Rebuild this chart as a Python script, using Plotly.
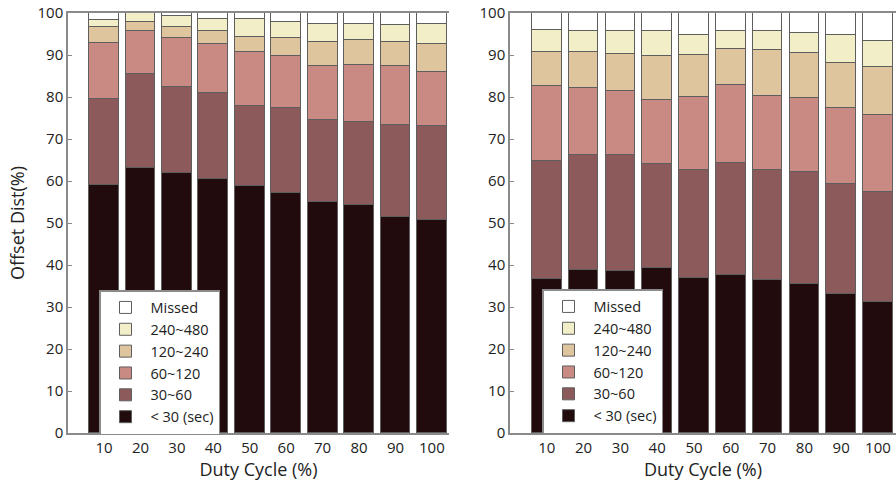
import plotly.graph_objects as go

duty = [10, 20, 30, 40, 50, 60, 70, 80, 90, 100]
tick_labels = ["10", "20", "30", "40", "50", "60", "70", "80", "90", "100"]
series_names = ["< 30 (sec)", "30~60", "60~120", "120~240", "240~480", "Missed"]
colors = ["#210b0c", "#8c5a5b", "#c98a84", "#dfc59e", "#f2efc8", "#ffffff"]

# Left chart (segment sizes, %)
left_lt30 = [59.1, 63.0, 61.8, 60.5, 58.7, 57.1, 55.0, 54.4, 51.4, 50.7]
left_30_60 = [20.5, 22.4, 20.7, 20.5, 19.2, 20.2, 19.6, 19.7, 21.9, 22.3]
left_60_120 = [13.3, 10.3, 11.5, 11.6, 12.7, 12.4, 12.8, 13.5, 14.1, 13.0]
left_120_240 = [3.7, 2.1, 2.6, 3.0, 3.8, 4.3, 5.8, 6.0, 5.6, 6.6]
left_240_480 = [1.8, 2.2, 2.8, 3.0, 4.2, 3.8, 4.2, 3.8, 4.1, 4.8]
left_missed = [1.6, 0.0, 0.6, 1.4, 1.4, 2.2, 2.6, 2.6, 2.9, 2.6]

# Right chart (segment sizes, %)
right_lt30 = [36.7, 38.7, 38.6, 39.3, 37.0, 37.7, 36.4, 35.5, 33.2, 31.3]
right_30_60 = [28.0, 27.5, 27.6, 24.8, 25.6, 26.5, 26.2, 26.6, 26.0, 26.2]
right_60_120 = [17.9, 16.0, 15.2, 15.2, 17.4, 18.7, 17.7, 17.7, 18.2, 18.3]
right_120_240 = [8.2, 8.6, 8.9, 10.5, 10.1, 8.6, 10.8, 10.6, 10.7, 11.3]
right_240_480 = [5.1, 4.9, 5.3, 6.0, 4.7, 4.1, 4.5, 4.8, 6.7, 6.3]
right_missed = [4.1, 4.3, 4.4, 4.2, 5.2, 4.4, 4.4, 4.8, 5.2, 6.6]

left_series = [left_lt30, left_30_60, left_60_120, left_120_240, left_240_480, left_missed]
right_series = [right_lt30, right_30_60, right_60_120, right_120_240, right_240_480, right_missed]

FONT = "Open Sans, Noto Sans, sans-serif"
W, H = 896, 483

fig = go.Figure()
for name, col, vals in zip(series_names, colors, left_series):
    fig.add_trace(go.Bar(x=duty, y=vals, name=name, marker_color=col,
                         marker_line=dict(color="#5e5e5e", width=1),
                         width=8.2, xaxis="x", yaxis="y", legend="legend"))
for name, col, vals in zip(series_names, colors, right_series):
    fig.add_trace(go.Bar(x=duty, y=vals, name=name, marker_color=col,
                         marker_line=dict(color="#5e5e5e", width=1),
                         width=8.0, xaxis="x2", yaxis="y2", legend="legend2"))

def px_x(p):
    return p / W

def px_y(p):
    return 1 - p / H

axis_common = dict(showline=True, linecolor="#8a8a8a", linewidth=1.5,
                   showgrid=False, zeroline=False, automargin=False,
                   tickfont=dict(family=FONT, size=15, color="#222"))

xcommon = dict(axis_common, tickmode="array", tickvals=duty, ticktext=tick_labels,
               ticks="", mirror=True)
ycommon = dict(axis_common, range=[0, 100], tickvals=[0, 10, 20, 30, 40, 50, 60, 70, 80, 90, 100],
               ticks="inside", ticklen=4, tickcolor="#8a8a8a")

legend_common = dict(font=dict(family=FONT, size=14.5, color="#222"), bgcolor="white",
                     bordercolor="#8a8a8a", borderwidth=1.5, traceorder="reversed",
                     xanchor="left", yanchor="top", tracegroupgap=0, itemwidth=40)

fig.update_layout(
    width=W, height=H,
    margin=dict(l=0, r=0, t=0, b=0, autoexpand=False),
    paper_bgcolor="white", plot_bgcolor="white",
    barmode="stack", bargap=0,
    font=dict(family=FONT, color="#222"),
    xaxis=dict(xcommon, domain=[px_x(68), px_x(449)], range=[0.1, 104.7], anchor="y",
               title=dict(text="Duty Cycle (%)", font=dict(family=FONT, size=18, color="#222"), standoff=6)),
    yaxis=dict(ycommon, domain=[px_y(433), px_y(13)], anchor="x",
               title=dict(text="Offset Dist(%)", font=dict(family=FONT, size=18, color="#222"), standoff=8)),
    xaxis2=dict(xcommon, domain=[px_x(510), 1.0], range=[0.0, 104.9], anchor="y2",
                title=dict(text="Duty Cycle (%)", font=dict(family=FONT, size=18, color="#222"), standoff=6)),
    yaxis2=dict(ycommon, domain=[px_y(433), px_y(13)], anchor="x2"),
    legend=dict(legend_common, x=px_x(99), y=px_y(290)),
    legend2=dict(legend_common, x=px_x(542), y=px_y(289)),
)

fig.write_html("out.html", config={"displayModeBar": False},
               post_script="document.body.style.margin='0';document.body.style.overflow='hidden';")
